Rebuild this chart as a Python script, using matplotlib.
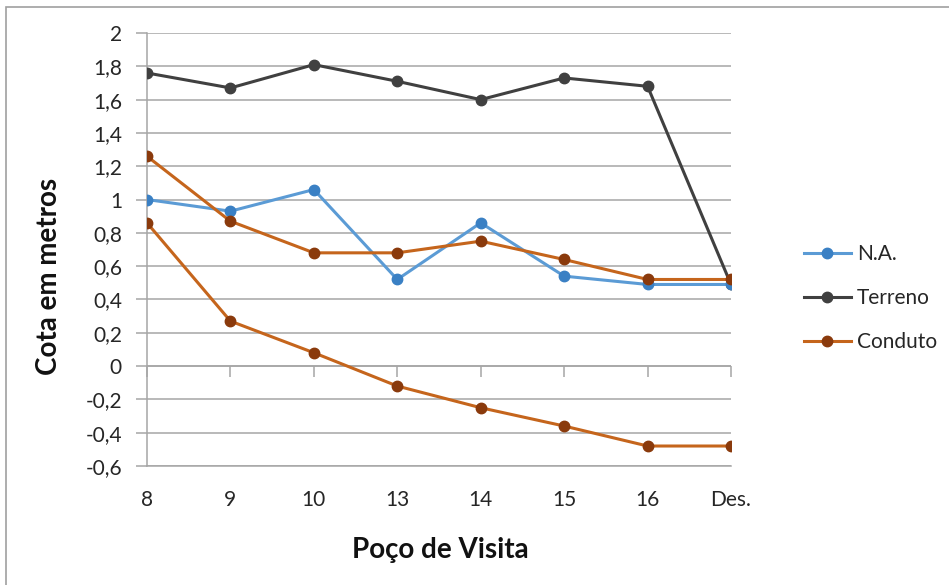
import matplotlib
matplotlib.use("Agg")
import matplotlib.pyplot as plt
from matplotlib.patches import Rectangle
from matplotlib.ticker import FuncFormatter, MultipleLocator

plt.rcParams['font.family'] = ['Lato', 'DejaVu Sans']

# Poços de visita ao longo da rede
pocos = ["8", "9", "10", "13", "14", "15", "16", "Des."]

# Cotas em metros
na = [1.00, 0.93, 1.06, 0.52, 0.86, 0.54, 0.49, 0.49]
terreno = [1.76, 1.67, 1.81, 1.71, 1.60, 1.73, 1.68, 0.49]
conduto_topo = [1.26, 0.87, 0.68, 0.68, 0.75, 0.64, 0.52, 0.52]
conduto_fundo = [0.86, 0.27, 0.08, -0.12, -0.25, -0.36, -0.48, -0.48]

W, H = 949, 585
fig = plt.figure(figsize=(W / 100, H / 100), dpi=100)
ax = fig.add_axes([147 / W, 1 - 466 / H, (731 - 147) / W, (466 - 33) / H])

x = list(range(len(pocos)))
grid_c = "#a6a6a6"
txt_c = "#262626"
blue_l, blue_m = "#5B9BD5", "#3A80C4"
gray_l, gray_m = "#404040", "#404040"
org_l, org_m = "#C5651C", "#8A3A0C"

ax.plot(x, na, color=blue_l, lw=2.2, marker="o", ms=7.5,
        mfc=blue_m, mec=blue_m, label="N.A.", zorder=4)
ax.plot(x, terreno, color=gray_l, lw=2.2, marker="o", ms=7.5,
        mfc=gray_m, mec=gray_m, label="Terreno", zorder=3)
ax.plot(x, conduto_topo, color=org_l, lw=2.2, marker="o", ms=7.5,
        mfc=org_m, mec=org_m, label="Conduto", zorder=5)
ax.plot(x, conduto_fundo, color=org_l, lw=2.2, marker="o", ms=7.5,
        mfc=org_m, mec=org_m, zorder=5)

ax.set_xlim(0, 7)
ax.set_ylim(-0.6, 2.0)
ax.yaxis.set_major_locator(MultipleLocator(0.2))
ax.yaxis.set_major_formatter(FuncFormatter(
    lambda v, p: ("%g" % round(v, 1)).replace(".", ",")))
ax.grid(axis="y", color=grid_c, lw=1.1)
ax.set_axisbelow(True)

for s in ("top", "right"):
    ax.spines[s].set_visible(False)
ax.spines["left"].set_color(grid_c)
ax.spines["bottom"].set_color(grid_c)
ax.spines["left"].set_linewidth(1.1)
ax.spines["bottom"].set_linewidth(1.1)

ax.set_xticks(x)
ax.set_xticklabels(pocos)
ax.tick_params(axis="x", length=0, pad=17, labelsize=15, labelcolor=txt_c)
ax.tick_params(axis="y", length=8, width=1.1, color=grid_c, pad=10,
               labelsize=15, labelcolor=txt_c)

# eixo horizontal na cota zero, com marcas nas categorias
ax.axhline(0, color=grid_c, lw=1.1, zorder=1)
sec = ax.secondary_xaxis(0, transform=ax.transData)
sec.set_xticks(x)
sec.tick_params(length=8, width=1.1, color=grid_c, labelbottom=False)
sec.spines["bottom"].set_visible(False)

fig.text(440 / W, 1 - 550 / H, "Poço de Visita", ha="center", va="center",
         fontsize=20, fontweight="bold", color="#111111")
fig.text(49 / W, 1 - 276 / H, "Cota em metros", ha="center", va="center",
         rotation=90, fontsize=20, fontweight="bold", color="#111111")

leg = fig.legend(loc="center left", bbox_to_anchor=(785 / W, 1 - 298 / H),
                 frameon=False, fontsize=15, handlelength=2.25,
                 labelspacing=1.15, handletextpad=0.3, borderpad=0.4)
for t in leg.get_texts():
    t.set_color(txt_c)

fig.patches.append(Rectangle((6 / W, -0.05), 1.2, 1 - 7 / H + 0.05,
                             transform=fig.transFigure, fill=False,
                             ec="#a0a0a0", lw=1.2))

fig.savefig("out.png", dpi=100)
